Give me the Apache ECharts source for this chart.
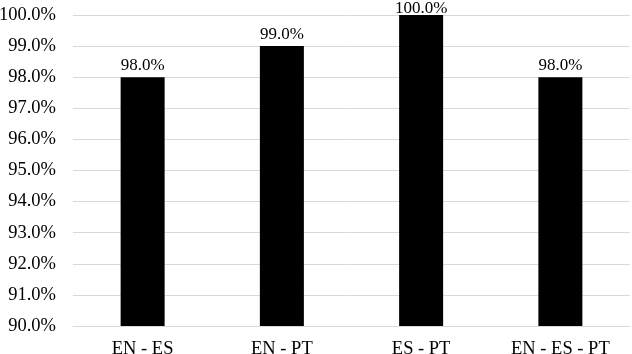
<!DOCTYPE html>
<html>
<head>
<meta charset="utf-8">
<script src="https://cdn.jsdelivr.net/npm/echarts@6/dist/echarts.min.js"></script>
<style>
html,body{margin:0;padding:0;background:#fff;}
#c{width:632px;height:354px;}
</style>
</head>
<body>
<div id="c"></div>
<script>
const categories = ['EN - ES', 'EN - PT', 'ES - PT', 'EN - ES - PT'];
const values = [98.0, 99.0, 100.0, 98.0];
const yMin = 90, yMax = 100, yStep = 1;

const chart = echarts.init(document.getElementById('c'), null, {renderer: 'canvas'});
const font = '"Liberation Serif", "Times New Roman", serif';
chart.setOption({
  animation: false,
  grid: {left: 73, right: 2, top: 15, bottom: 28, containLabel: false, outerBoundsMode: 'none'},
  xAxis: {
    type: 'category',
    data: categories,
    axisLine: {show: true, lineStyle: {color: '#d9d9d9', width: 1}},
    axisTick: {show: false},
    axisLabel: {color: '#000', fontFamily: font, fontSize: 18.5, margin: 13.5}
  },
  yAxis: {
    type: 'value',
    min: yMin, max: yMax, interval: yStep,
    axisLine: {show: false},
    axisTick: {show: false},
    splitLine: {lineStyle: {color: '#d9d9d9', width: 1}},
    axisLabel: {color: '#000', fontFamily: font, fontSize: 18.5, margin: 17,
      formatter: v => v.toFixed(1) + '%'}
  },
  series: [{
    type: 'bar',
    barWidth: 44,
    data: values.map(v => v === yMax ? {value: v, label: {distance: -2}} : v),
    itemStyle: {color: '#000'},
    label: {show: true, position: 'top', distance: 3, color: '#000', fontFamily: font, fontSize: 17,
      formatter: p => p.value.toFixed(1) + '%'}
  }]
});
</script>
</body>
</html>
